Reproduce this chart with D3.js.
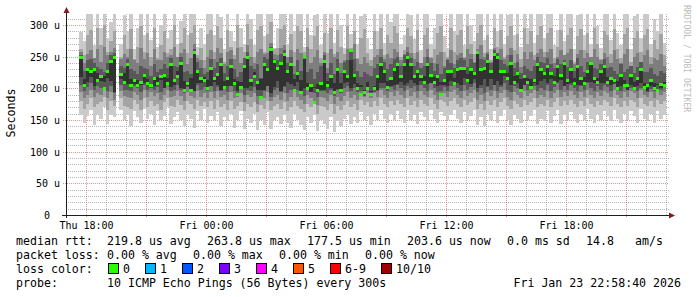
<!DOCTYPE html>
<html><head><meta charset="utf-8">
<script src="https://cdn.jsdelivr.net/npm/d3@7"></script>
<style>
body{margin:0;background:#fff}
text{font-family:"DejaVu Sans Mono",monospace;white-space:pre}
</style>
</head><body>
<svg id="c" width="697" height="297"></svg>
<script>
// ---------------- data ----------------
const startTime = Date.UTC(2026, 0, 22, 17, 40);   // first step (Thu 17:40)
const stepMinutes = 10;

const median = [
248,205,230,226,229,213,218,200,226,242,248,null,222,210,237,205,213,205,210,221,
208,205,216,208,219,221,208,237,213,218,240,197,208,197,256,226,216,212,199,232,
216,222,237,202,216,234,208,190,202,234,248,213,218,210,185,237,229,262,242,232,
240,253,226,237,197,224,193,250,200,205,177,197,208,242,205,218,193,229,197,226,
218,260,221,200,190,193,200,190,200,218,237,226,202,216,229,237,218,237,248,237,
218,226,218,210,237,221,210,218,190,213,226,226,208,229,232,232,213,229,224,256,
229,232,242,226,253,248,226,226,216,240,210,224,197,218,210,202,213,237,229,224,
234,224,210,234,221,240,213,229,208,234,216,208,226,240,216,210,226,234,210,216,
213,200,221,205,205,221,200,216,229,202,205,213,200,197,206,204];

const innerPing = [
218,215,210,218,204,225,212,220,216,212,193,null,214,224,207,215,207,213,206,205,
214,201,204,218,213,201,216,202,205,228,200,211,202,217,196,208,208,218,213,204,
210,202,197,212,204,204,214,212,210,200,198,203,226,198,215,197,203,187,202,212,
196,203,210,207,215,210,213,200,208,195,201,207,196,198,211,198,209,199,209,208,
210,200,207,208,202,187,210,196,192,198,201,208,212,202,205,207,210,205,204,213,
208,206,212,220,207,209,218,204,210,205,204,212,216,209,206,216,223,207,214,200,
205,214,202,214,205,212,206,220,224,206,220,208,215,206,216,214,203,205,211,214,
208,214,220,210,213,204,207,209,216,206,206,218,210,210,208,216,208,208,218,206,
207,212,203,213,197,201,210,204,201,208,195,199,208,207,198,210];

const lo4 = [
206,196,202,208,198,204,200,210,196,204,194,null,206,198,198,196,204,200,194,208,
198,204,198,202,194,200,208,196,198,206,198,192,204,198,196,206,198,202,196,204,
196,206,196,200,194,204,196,196,202,190,200,196,202,188,198,196,204,192,198,200,
194,202,192,198,204,198,194,188,200,194,202,186,198,196,192,200,188,198,192,200,
204,196,200,194,206,198,202,194,204,196,208,200,196,204,198,206,200,196,208,200,
204,196,206,200,196,208,200,194,206,202,196,204,208,200,196,206,198,202,208,194,
200,192,204,198,206,196,202,208,198,194,204,200,196,206,198,202,208,196,200,198,
206,196,202,208,198,204,198,206,200,196,204,198,208,200,196,204,198,206,202,196,
208,200,196,204,198,206,202,196,208,200,196,204,196,206,200,204];

const lo3 = [
194,184,190,198,186,192,190,200,184,194,182,null,196,188,186,184,194,190,182,198,
186,194,188,192,182,190,198,186,188,196,188,180,194,188,184,196,186,192,184,194,
184,196,186,190,182,194,184,186,192,178,190,186,192,176,188,184,194,180,186,190,
182,192,180,186,194,186,182,176,190,184,192,174,186,184,180,190,176,186,180,188,
194,184,190,182,196,188,192,184,194,186,198,190,184,194,188,196,190,184,198,188,
194,184,196,190,186,198,190,182,196,192,186,194,198,190,184,196,188,192,198,182,
190,180,194,188,196,184,192,198,186,182,194,190,184,196,188,192,198,184,190,186,
196,184,192,198,186,194,188,196,190,184,194,186,198,190,184,194,188,196,192,186,
198,190,184,194,186,196,192,184,198,190,186,194,184,196,190,194];

const lo2 = [
180,168,176,184,170,176,178,186,166,180,172,null,184,172,170,168,182,176,166,184,
170,180,172,176,166,178,184,172,170,182,174,166,180,176,168,182,172,178,170,180,
168,182,170,176,166,180,168,172,178,164,176,170,178,162,174,168,180,166,172,176,
168,178,164,170,180,172,168,162,176,170,178,160,172,170,166,176,160,172,166,174,
180,170,176,166,182,174,178,170,180,172,184,176,170,180,174,182,176,170,184,174,
180,170,182,176,172,184,176,168,182,178,172,180,184,176,170,182,174,178,184,168,
176,166,180,174,182,170,178,184,172,168,180,176,170,182,174,178,184,170,176,172,
182,170,178,184,172,180,174,182,176,170,180,172,184,176,170,180,174,182,178,172,
184,176,170,180,172,182,178,170,184,176,172,180,170,182,176,180];

const lo1 = [
158,146,156,166,142,160,152,170,144,158,154,null,166,150,158,140,164,154,146,168,
152,160,142,164,150,156,170,144,154,162,150,140,158,152,138,164,150,168,146,156,
150,162,140,154,148,160,138,150,164,136,152,146,160,134,150,142,162,136,150,154,
144,158,146,138,160,150,142,134,154,146,158,132,150,144,136,154,131,148,140,152,
158,144,154,146,162,150,156,142,160,150,166,152,146,160,150,164,152,146,166,150,
158,144,162,154,148,166,152,146,162,156,150,158,166,152,146,162,150,156,166,142,
154,140,160,150,164,146,156,166,150,142,158,152,146,164,150,156,166,144,152,148,
164,146,156,166,144,158,150,162,152,146,160,150,168,152,146,160,150,164,156,148,
166,152,146,160,150,164,156,146,168,152,148,160,146,164,152,158];

const hi4 = [
258,228,244,246,240,234,230,226,240,252,256,null,236,232,246,230,228,222,236,232,
230,220,238,226,230,238,232,248,236,234,250,226,228,222,262,242,232,222,226,246,
232,242,248,224,236,246,230,218,226,248,258,236,230,238,216,250,246,266,254,244,
254,260,240,250,222,244,228,258,226,230,214,226,236,252,224,240,222,246,224,242,
244,264,246,228,218,226,222,220,232,238,250,242,230,238,246,250,236,252,258,248,
236,242,232,236,250,240,228,238,222,232,244,240,232,244,248,244,234,246,240,262,
246,244,254,242,260,256,244,238,236,252,232,242,224,236,230,228,236,250,242,240,
248,238,232,246,238,252,234,244,228,248,236,226,242,250,232,230,244,246,232,234,
228,222,238,226,230,236,224,234,242,226,226,232,222,220,228,224];

const hi3 = [
252,240,255,260,248,262,242,266,252,258,264,null,246,254,250,262,244,240,264,246,
256,236,262,248,244,258,250,252,266,250,256,262,238,248,270,252,244,232,250,260,
246,264,256,238,258,260,246,264,240,258,268,250,240,258,262,254,256,272,262,252,
264,268,250,260,236,262,256,246,266,240,250,260,240,258,232,262,250,258,240,254,
262,244,270,246,238,250,240,236,250,252,262,246,254,248,262,258,244,254,266,256,
246,258,240,250,262,248,240,252,258,236,250,260,238,252,256,250,262,254,242,258,
268,250,258,240,264,256,262,246,252,264,240,254,234,258,246,258,244,256,262,250,
258,262,240,250,260,244,256,262,238,254,260,248,256,242,262,250,238,256,250,240,
260,246,240,254,262,236,250,256,242,252,260,238,248,244,254,236];

const hi2 = [
262,252,285,292,248,296,268,300,258,275,290,null,250,284,262,294,246,266,298,258,
288,250,296,244,268,290,256,262,300,250,272,296,256,288,300,248,264,245,286,292,
258,298,280,242,292,266,252,300,266,248,302,278,250,292,298,258,286,304,246,264,
294,300,250,286,258,298,290,246,296,262,282,298,248,288,256,296,254,292,266,244,
298,262,290,248,280,294,256,244,290,262,296,252,284,272,298,288,250,260,296,282,
256,292,240,284,296,250,262,288,298,258,246,296,258,284,292,248,298,270,254,288,
300,256,284,244,296,266,292,250,282,298,260,286,246,296,270,290,252,284,298,258,
288,296,248,266,292,252,284,296,242,282,294,260,288,250,296,270,246,290,284,254,
294,262,248,286,296,242,280,290,258,284,294,250,276,262,286,252];

const hi1 = [
289,275,322,330,268,326,296,330,280,305,322,null,270,316,290,326,262,296,330,284,
322,276,330,265,300,326,280,292,330,270,306,330,285,322,330,266,296,270,318,326,
284,330,312,262,326,290,275,330,296,270,330,310,268,325,330,282,318,330,264,295,
326,330,270,318,290,330,322,266,330,284,316,330,268,320,288,330,272,326,300,264,
330,286,322,268,315,330,280,262,326,290,330,272,318,305,330,322,270,284,330,316,
278,326,260,318,330,270,296,322,330,282,264,330,290,318,326,268,330,300,275,322,
330,276,318,262,330,290,326,270,316,330,284,320,266,330,296,326,272,318,330,280,
322,330,268,292,326,274,318,330,262,316,330,284,322,270,330,298,264,326,318,276,
330,288,268,322,330,262,314,326,280,318,330,270,310,290,320,272];

const yMajorTicks = [0, 50, 100, 150, 200, 250, 300];
const yTickLabels = ["0", "50 u", "100 u", "150 u", "200 u", "250 u", "300 u"];
const yAxisTitle = "Seconds";
const watermark = "RRDTOOL / TOBI OETIKER";

const smokeColors = ["#cacaca", "#a4a4a4", "#7e7e7e", "#585858", "#323232"];
const lossLabels = ["0", "1", "2", "3", "4", "5", "6-9", "10/10"];
const lossColors = ["#26ff00", "#00b8ff", "#0059ff", "#7e00ff", "#ff00ff", "#ff5500", "#ff0000", "#a10000"];

const rttRow = ["median rtt:", "219.8 us avg", "263.8 us max", "177.5 us min", "203.6 us now", "0.0 ms sd", "14.8", "am/s"];
const lossRow = ["packet loss:", "0.00 % avg", "0.00 % max", "0.00 % min", "0.00 % now"];
const colorRowLabel = "loss color:";
const probeRow = ["probe:", "10 ICMP Echo Pings (56 Bytes) every 300s"];
const dateStamp = "Fri Jan 23 22:58:40 2026";

// ---------------- layout ----------------
const rttX = [16, 107, 207, 307, 407, 507, 586, 635];
const lossX = [16, 107, 193, 279, 365];
const boxX = [108, 145, 182, 219, 256, 293, 330, 381];
const probeX = [16, 107];
const baseY = [244.5, 258.7, 272.9, 287.1];

const svg = d3.select("#c");
svg.append("rect").attr("width", 697).attr("height", 297).attr("fill", "#fff");

const x = d3.scaleUtc()
  .domain([Date.UTC(2026, 0, 22, 17, 0), Date.UTC(2026, 0, 23, 23, 0)])
  .range([66, 666]);
const yTop = 14;
const y = d3.scaleLinear().domain([0, 201 / (190 / 300)]).range([215, yTop]);
const yc = v => Math.max(yTop, Math.min(215, y(v)));

// ---------------- grid (under the smoke) ----------------
const gGrid = svg.append("g").attr("shape-rendering", "crispEdges")
  .attr("stroke-dasharray", "1,1");
const minorY = d3.range(10, 320, 10).filter(v => v % 50 !== 0 && y(v) >= yTop);
gGrid.selectAll(".hmin").data(minorY).join("line")
  .attr("x1", 66).attr("x2", 669)
  .attr("y1", v => Math.round(y(v)) + 0.5).attr("y2", v => Math.round(y(v)) + 0.5)
  .attr("stroke", "rgba(143,143,143,0.65)");
const hours = x.ticks(d3.utcHour.every(1)).filter(t => x(t) > 67);
gGrid.selectAll(".vmin").data(hours.filter(t => t.getUTCHours() % 3 !== 0)).join("line")
  .attr("x1", t => Math.round(x(t)) + 0.5).attr("x2", t => Math.round(x(t)) + 0.5)
  .attr("y1", yTop).attr("y2", 215)
  .attr("stroke", "rgba(143,143,143,0.65)");
gGrid.selectAll(".hmaj").data(yMajorTicks.filter(v => v > 0)).join("line")
  .attr("x1", 63).attr("x2", 669)
  .attr("y1", v => Math.round(y(v)) + 0.5).attr("y2", v => Math.round(y(v)) + 0.5)
  .attr("stroke", "rgba(222,79,79,0.6)");
gGrid.selectAll(".vmaj").data(hours.filter(t => t.getUTCHours() % 3 === 0)).join("line")
  .attr("x1", t => Math.round(x(t)) + 0.5).attr("x2", t => Math.round(x(t)) + 0.5)
  .attr("y1", yTop).attr("y2", 218)
  .attr("stroke", "rgba(222,79,79,0.6)");

// ---------------- smoke ----------------
const steps = median.map((m, i) => {
  const t0 = new Date(startTime + i * stepMinutes * 60000);
  const t1 = new Date(startTime + (i + 1) * stepMinutes * 60000);
  if (m == null) return null;
  const p = [lo1[i], lo2[i], lo3[i], lo4[i], m, innerPing[i], hi4[i], hi3[i], hi2[i], hi1[i]].sort((a, b) => a - b);
  return {t0, t1, m, p};
}).filter(d => d);

const gSmoke = svg.append("g").attr("shape-rendering", "crispEdges");
smokeColors.forEach((col, k) => {
  gSmoke.append("g").selectAll("rect").data(steps).join("rect")
    .attr("x", d => Math.round(x(d.t0)))
    .attr("width", d => Math.round(x(d.t1)) - Math.round(x(d.t0)))
    .attr("y", d => Math.round(yc(d.p[9 - k])))
    .attr("height", d => Math.max(1, Math.round(yc(d.p[k])) - Math.round(yc(d.p[9 - k]))))
    .attr("fill", col);
});
gSmoke.append("g").selectAll("rect").data(steps).join("rect")
  .attr("x", d => Math.round(x(d.t0)))
  .attr("width", d => Math.round(x(d.t1)) - Math.round(x(d.t0)))
  .attr("y", d => Math.round(y(d.m) - 1.5))
  .attr("height", 3)
  .attr("fill", lossColors[0]);

// ---------------- axes ----------------
const gAx = svg.append("g").attr("shape-rendering", "crispEdges");
gAx.append("line").attr("x1", 66.5).attr("x2", 66.5).attr("y1", 218).attr("y2", 12).attr("stroke", "#1f1f1f");
gAx.append("line").attr("x1", 62).attr("x2", 670).attr("y1", 215.5).attr("y2", 215.5).attr("stroke", "#1f1f1f");
svg.append("path").attr("d", "M63.5,13L69.5,13L66.5,7Z").attr("fill", "#801f1f");
svg.append("path").attr("d", "M669,212.5L669,218.5L675,215.5Z").attr("fill", "#801f1f");

svg.append("g").selectAll("text").data(yMajorTicks).join("text")
  .attr("x", v => v === 0 ? 50 : 60)
  .attr("y", v => Math.round(y(v)) + 4)
  .attr("text-anchor", "end")
  .attr("font-size", 10)
  .text((v, i) => yTickLabels[i]);

const xLabelTimes = x.ticks(d3.utcHour.every(6)).filter(t => x(t) > 70 && x(t) < 660);
svg.append("g").selectAll("text").data(xLabelTimes).join("text")
  .attr("x", t => Math.round(x(t)) + 0.5)
  .attr("y", 229)
  .attr("text-anchor", "middle")
  .attr("font-size", 10)
  .text(d3.utcFormat("%a %H:%M"));

svg.append("text").attr("transform", "translate(15,113) rotate(-90)")
  .attr("text-anchor", "middle").attr("font-size", 11.6).text(yAxisTitle);

svg.append("text").attr("transform", "translate(684,5) rotate(90)")
  .attr("font-size", 8.1).attr("fill", "#bbbbbb").text(watermark);

// ---------------- legend ----------------
const fs = 11.6;
const gLeg = svg.append("g").attr("font-size", fs).attr("fill", "#000");
rttRow.forEach((s, i) => gLeg.append("text").attr("x", rttX[i]).attr("y", baseY[0]).text(s));
lossRow.forEach((s, i) => gLeg.append("text").attr("x", lossX[i]).attr("y", baseY[1]).text(s));
gLeg.append("text").attr("x", 16).attr("y", baseY[2]).text(colorRowLabel);
lossLabels.forEach((s, i) => {
  svg.append("rect").attr("x", boxX[i] + 0.5).attr("y", 263.5).attr("width", 10).attr("height", 10)
    .attr("fill", lossColors[i]).attr("stroke", "#000").attr("shape-rendering", "crispEdges");
  gLeg.append("text").attr("x", boxX[i] + 15).attr("y", baseY[2]).text(s);
});
probeRow.forEach((s, i) => gLeg.append("text").attr("x", probeX[i]).attr("y", baseY[3]).text(s));
gLeg.append("text").attr("x", 681).attr("y", baseY[3]).attr("text-anchor", "end").text(dateStamp);
</script>
</body></html>
